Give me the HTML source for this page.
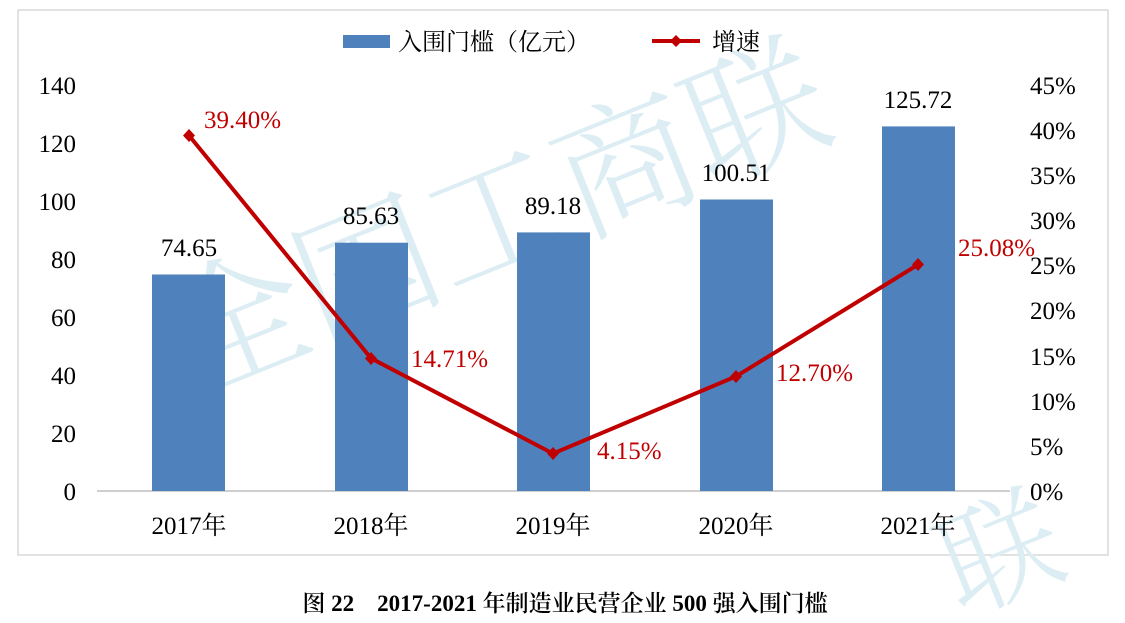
<!DOCTYPE html>
<html><head><meta charset="utf-8"><style>
html,body{margin:0;background:#fff;width:1125px;height:623px;overflow:hidden}
svg{display:block;overflow:hidden}
svg text{font-family:"Liberation Serif","Noto Serif CJK SC",serif}
</style></head><body>
<svg width="1125" height="623" viewBox="0 0 1125 623">
<rect x="18" y="10" width="1090" height="545" fill="#fff" stroke="#d9d9d9" stroke-width="1.5"/>
<g fill="#dcedf4" font-size="140">
<text transform="translate(190,395) rotate(-22)" style="font-family:'Noto Serif CJK SC',serif;font-weight:300">全国工商联</text>
<text transform="translate(960,615) rotate(-22)" font-size="120" style="font-family:'Noto Serif CJK SC',serif;font-weight:300">联</text>
</g>
<line x1="97" y1="491" x2="1010" y2="491" stroke="#bfbfbf" stroke-width="1.5"/>
<g fill="#4f81bd">
<rect x="152" y="274.5" width="73" height="216.5"/>
<rect x="335" y="242.7" width="73" height="248.3"/>
<rect x="517" y="232.4" width="73" height="258.6"/>
<rect x="700" y="199.5" width="73" height="291.5"/>
<rect x="882" y="126.4" width="73" height="364.6"/>
</g>
<g font-size="25" fill="#000" text-anchor="middle">
<text x="189" y="256">74.65</text>
<text x="371" y="224">85.63</text>
<text x="553" y="214">89.18</text>
<text x="736" y="181">100.51</text>
<text x="918" y="108">125.72</text>
</g>
<polyline points="189,135.5 371,358.3 553,453.6 736,376.4 918,264.7" fill="none" stroke="#c00000" stroke-width="4"/>
<g fill="#c00000">
<path d="M189,129 l6,6.5 -6,6.5 -6,-6.5z"/><path d="M371,352 l6,6.5 -6,6.5 -6,-6.5z"/>
<path d="M553,447 l6,6.5 -6,6.5 -6,-6.5z"/><path d="M736,370 l6,6.5 -6,6.5 -6,-6.5z"/>
<path d="M918,258 l6,6.5 -6,6.5 -6,-6.5z"/>
</g>
<g font-size="25" fill="#c00000">
<text x="204" y="128">39.40%</text>
<text x="411" y="367">14.71%</text>
<text x="597" y="459">4.15%</text>
<text x="776" y="381">12.70%</text>
<text x="958" y="256">25.08%</text>
</g>
<g font-size="25" fill="#000" text-anchor="end">
<text x="76" y="500">0</text><text x="76" y="442">20</text><text x="76" y="384">40</text>
<text x="76" y="326">60</text><text x="76" y="268">80</text><text x="76" y="210">100</text>
<text x="76" y="152">120</text><text x="76" y="94">140</text>
</g>
<g font-size="25" fill="#000">
<text x="1030" y="500">0%</text><text x="1030" y="455">5%</text><text x="1030" y="410">10%</text>
<text x="1030" y="365">15%</text><text x="1030" y="319">20%</text><text x="1030" y="274">25%</text>
<text x="1030" y="229">30%</text><text x="1030" y="184">35%</text><text x="1030" y="139">40%</text>
<text x="1030" y="94">45%</text>
</g>
<g font-size="25" fill="#000" text-anchor="middle">
<text x="189" y="534">2017年</text><text x="371" y="534">2018年</text><text x="553" y="534">2019年</text>
<text x="736" y="534">2020年</text><text x="918" y="534">2021年</text>
</g>
<rect x="343" y="35" width="47" height="13" fill="#4f81bd"/>
<text x="398" y="50" font-size="24">入围门槛（亿元）</text>
<line x1="652" y1="41" x2="700" y2="41" stroke="#c00000" stroke-width="4"/>
<path d="M676,35 l6,6 -6,6 -6,-6z" fill="#c00000"/>
<text x="712" y="50" font-size="24">增速</text>
<text x="565" y="611" font-size="23" font-weight="600" text-anchor="middle">图 22　2017-2021 年制造业民营企业 500 强入围门槛</text>
</svg>
</body></html>
